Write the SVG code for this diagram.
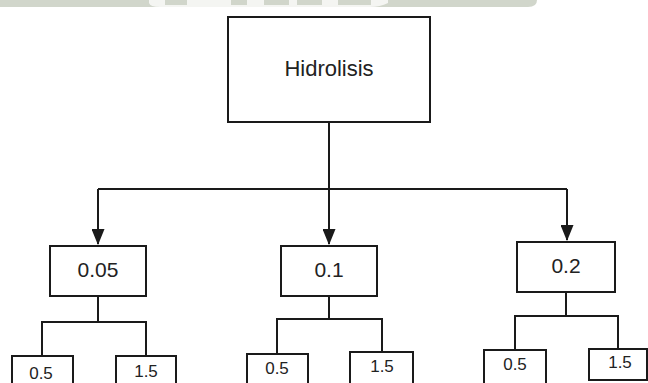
<svg xmlns="http://www.w3.org/2000/svg" width="648" height="383" viewBox="0 0 648 383">
  <defs>
    <marker id="arrow" viewBox="0 0 16 13" refX="15" refY="6.5" markerWidth="16" markerHeight="13" markerUnits="userSpaceOnUse" orient="auto">
      <path d="M0,0 L16,6.5 L0,13 Z" fill="#1a1a1a"/>
    </marker>
    <style>
      .box { fill: #ffffff; stroke: #1a1a1a; stroke-width: 2; }
      .wire { fill: none; stroke: #1a1a1a; stroke-width: 2; }
      .lbl { font-family: "Liberation Sans", Arial, sans-serif; fill: #222222; text-anchor: middle; }
      .root { font-size: 22px; }
      .mid { font-size: 21px; }
      .leaf { font-size: 17px; }
      .band { fill: #d1d6cb; }
    </style>
  </defs>

  <rect width="648" height="383" fill="#ffffff"/>

  <!-- header band -->
  <g id="header">
    <path class="band" d="M0,-10 H537 V0 Q537,7 528,7 H0 Z"/>
    <path d="M149,-10 H388 V3 Q380,7 370,7 H160 Q150,7 149,3 Z" fill="#f4f5f2"/>
    <rect class="band" x="165" y="0" width="22" height="5"/>
    <rect class="band" x="231" y="0" width="16" height="5"/>
    <rect class="band" x="264" y="0" width="25" height="5"/>
    <rect class="band" x="297" y="0" width="25" height="5"/>
    <rect class="band" x="338" y="0" width="33" height="5"/>
  </g>

  <!-- connectors -->
  <g id="connectors">
    <path class="wire" d="M329,122 V189"/>
    <path class="wire" d="M98,189 H567"/>
    <path class="wire" d="M98,189 V244" marker-end="url(#arrow)"/>
    <path class="wire" d="M329,189 V244" marker-end="url(#arrow)"/>
    <path class="wire" d="M567,189 V240" marker-end="url(#arrow)"/>

    <path class="wire" d="M98,296 V322 M42,356 V322 H146 V356"/>
    <path class="wire" d="M329,296 V319 M277,354 V319 H382 V352"/>
    <path class="wire" d="M566,292 V316 M515,350 V316 H618 V349"/>
  </g>

  <g id="hidrolisis">
    <rect class="box" x="228" y="17" width="202" height="105"/>
    <text class="lbl root" x="329" y="76">Hidrolisis</text>
  </g>

  <g id="n005">
    <rect class="box" x="50" y="246" width="96" height="50"/>
    <text class="lbl mid" x="98" y="277">0.05</text>
  </g>
  <g id="n01">
    <rect class="box" x="281" y="246" width="96" height="50"/>
    <text class="lbl mid" x="329" y="277">0.1</text>
  </g>
  <g id="n02">
    <rect class="box" x="517" y="242" width="98" height="50"/>
    <text class="lbl mid" x="566" y="273">0.2</text>
  </g>

  <g id="n005-05">
    <rect class="box" x="12" y="356" width="61" height="40"/>
    <text class="lbl leaf" x="41" y="379">0.5</text>
  </g>
  <g id="n005-15">
    <rect class="box" x="116" y="356" width="60" height="40"/>
    <text class="lbl leaf" x="146" y="377">1.5</text>
  </g>
  <g id="n01-05">
    <rect class="box" x="247" y="354" width="61" height="40"/>
    <text class="lbl leaf" x="277" y="374">0.5</text>
  </g>
  <g id="n01-15">
    <rect class="box" x="350" y="352" width="63" height="40"/>
    <text class="lbl leaf" x="382" y="372">1.5</text>
  </g>
  <g id="n02-05">
    <rect class="box" x="484" y="350" width="62" height="40"/>
    <text class="lbl leaf" x="515" y="370">0.5</text>
  </g>
  <g id="n02-15">
    <rect class="box" x="589" y="349" width="58" height="31"/>
    <text class="lbl leaf" x="620" y="368">1.5</text>
  </g>
</svg>
